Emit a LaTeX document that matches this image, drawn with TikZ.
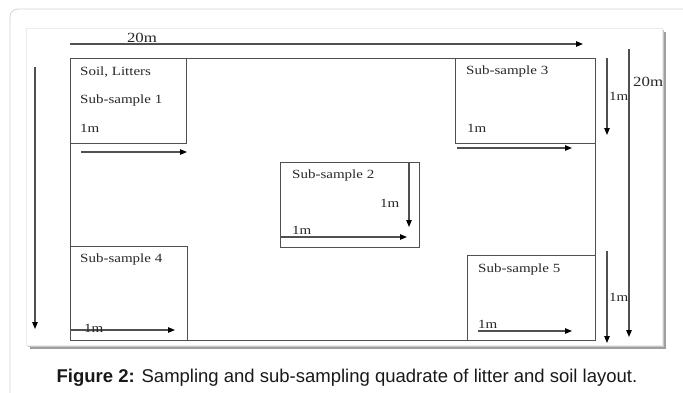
\documentclass[tikz,border=0pt]{standalone}
\usepackage{fontspec}
\setmainfont{Liberation Sans}
\newfontfamily\diagfont[FakeStretch=1.2]{Liberation Serif}
\usetikzlibrary{arrows.meta}
\definecolor{linegray}{HTML}{505050}
\definecolor{txtgray}{HTML}{282828}
\tikzset{
  qbox/.style={draw=linegray, line width=1.1pt},
  meas/.style={draw=linegray, line width=1.1pt, -{Triangle[length=7pt,width=5.5pt,color=black]}},
  lbl/.style={font=\diagfont\fontsize{12.5}{14}\selectfont, text=txtgray, inner sep=0pt, anchor=base west},
  biglbl/.style={font=\diagfont\fontsize{14}{16}\selectfont, text=txtgray, inner sep=0pt, anchor=base},
}
\begin{document}
\begin{tikzpicture}[x=1pt,y=-1pt]
\useasboundingbox (0,0) rectangle (683,392);
% page card border
\draw[gray!35, line width=0.8pt, rounded corners=8pt] (10,9) rectangle (720,430);
% figure panel with shadow
\fill[gray!75] (30,32) rectangle (666,349);
\fill[gray!45] (28,30) rectangle (664,347);
\filldraw[fill=white, draw=gray!15, line width=1pt] (26,28) rectangle (662,345);
% big quadrat
\node[qbox, anchor=north west, minimum width=525pt, minimum height=282pt, inner sep=0pt] (big) at (70,58) {};
% sub-sample boxes
\node[qbox, anchor=north west, minimum width=116pt, minimum height=85pt, inner sep=0pt] (b1) at (70,58) {};
\node[qbox, anchor=north west, minimum width=140pt, minimum height=85pt, inner sep=0pt] (b3) at (455,58) {};
\node[qbox, anchor=north west, minimum width=139pt, minimum height=85pt, inner sep=0pt] (b2) at (280,162) {};
\node[qbox, anchor=north west, minimum width=117pt, minimum height=94pt, inner sep=0pt] (b4) at (70,246) {};
\node[qbox, anchor=north west, minimum width=128pt, minimum height=85pt, inner sep=0pt] (b5) at (467,255) {};
% coordinates for measurement arrows
\coordinate (t1) at (70,44);   \coordinate (t2) at (583,44);
\coordinate (l1) at (35,67);   \coordinate (l2) at (35,329);
\coordinate (r1) at (629,49);  \coordinate (r2) at (629,337);
\coordinate (v1) at (607,58);  \coordinate (v2) at (607,135);
\coordinate (w1) at (607,251); \coordinate (w2) at (607,343);
\coordinate (a1) at (81,152);  \coordinate (a2) at (187,152);
\coordinate (c1) at (457,148); \coordinate (c2) at (572,148);
\coordinate (d1) at (409,162); \coordinate (d2) at (409,227);
\coordinate (e1) at (280,237); \coordinate (e2) at (407,237);
\coordinate (f1) at (70,330);  \coordinate (f2) at (175,330);
\coordinate (g1) at (478,331); \coordinate (g2) at (572,331);
\draw[meas] (t1) -- (t2);
\draw[meas] (l1) -- (l2);
\draw[meas] (r1) -- (r2);
\draw[meas] (v1) -- (v2);
\draw[meas] (w1) -- (w2);
\draw[meas] (a1) -- (a2);
\draw[meas] (c1) -- (c2);
\draw[meas] (d1) -- (d2);
\draw[meas] (e1) -- (e2);
\draw[meas] (f1) -- (f2);
\draw[meas] (g1) -- (g2);
% labels
\node[biglbl] (top20) at (142,42) {20m};
\node[biglbl, anchor=base west] (right20) at (633,86) {20m};
\node[lbl] (s1a) at (80,75) {Soil, Litters};
\node[lbl] (s1b) at (80,103) {Sub-sample 1};
\node[lbl] (s1c) at (80,132) {1m};
\node[lbl] (s3a) at (466,74) {Sub-sample 3};
\node[lbl] (s3b) at (467,132) {1m};
\node[lbl] (v1m) at (609,100) {1m};
\node[lbl] (s2a) at (292,178) {Sub-sample 2};
\node[lbl] (s2b) at (380,207) {1m};
\node[lbl] (s2c) at (292,234) {1m};
\node[lbl] (s4a) at (80,262) {Sub-sample 4};
\node[lbl] (s4b) at (84,332) {1m};
\node[lbl] (s5a) at (478,272) {Sub-sample 5};
\node[lbl] (s5b) at (478,328) {1m};
\node[lbl] (w1m) at (609,301) {1m};
% caption
\node[anchor=base, inner sep=0pt, font=\fontsize{18.5}{21}\selectfont, text=black!90] (cap) at (347,382) {\textbf{Figure 2:} Sampling and sub-sampling quadrate of litter and soil layout.};
\end{tikzpicture}
\end{document}
